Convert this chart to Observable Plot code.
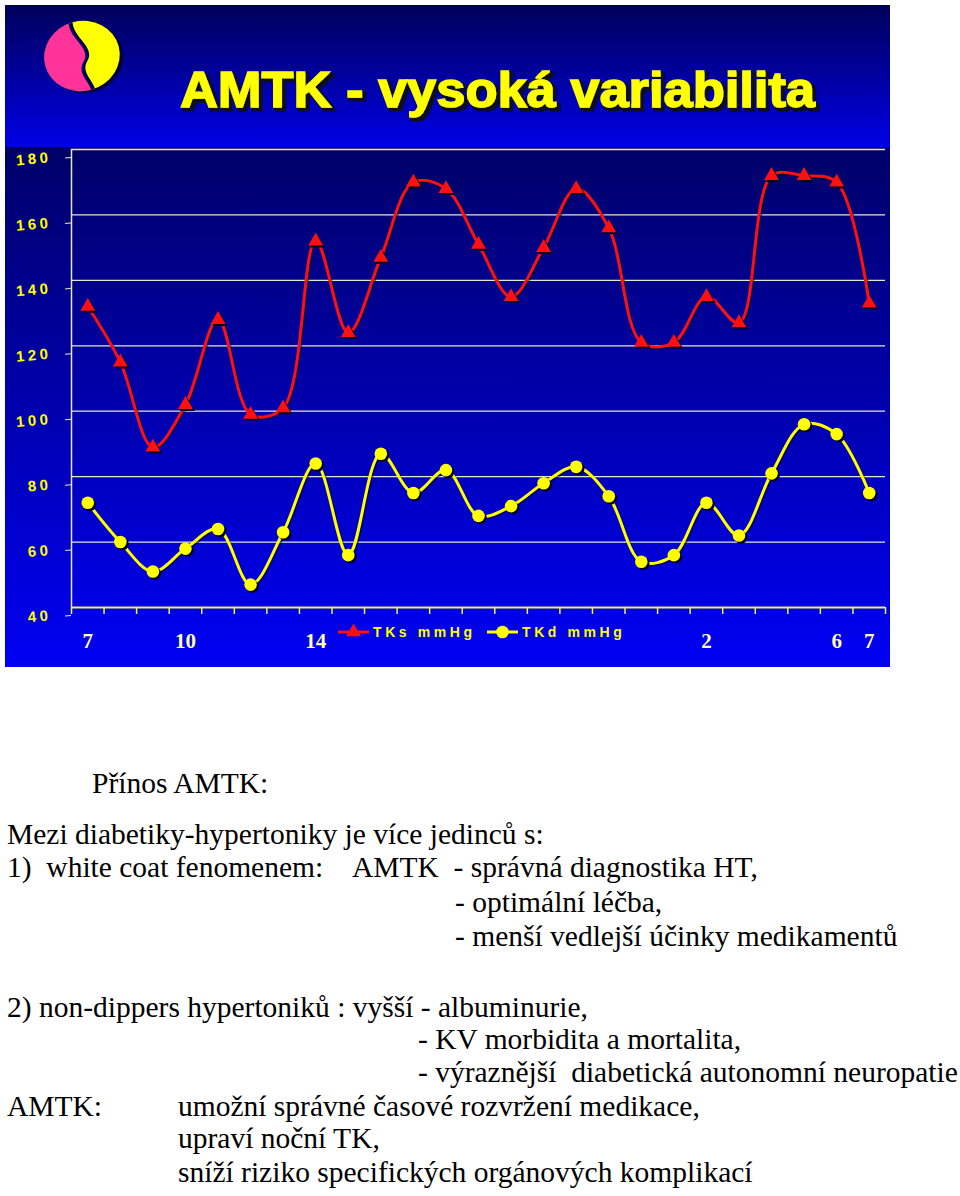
<!DOCTYPE html>
<html><head><meta charset="utf-8">
<script src="https://cdn.jsdelivr.net/npm/d3@7"></script>
<script src="https://cdn.jsdelivr.net/npm/@observablehq/plot@0.6"></script>
<style>
body{margin:0;background:#fff;width:960px;height:1196px;position:relative;overflow:hidden;}
#slide{position:absolute;left:5px;top:5px;width:885px;height:662px;background:linear-gradient(#00005a 0px,#0000e6 142px);}
#chartbg{position:absolute;left:5px;top:147px;width:885px;height:520px;background:linear-gradient(#000068,#0000f4);}
#head{position:absolute;left:0;top:0;}
#chart{position:absolute;left:0;top:140px;}
#legend{position:absolute;left:0;top:615px;}
#chart g[aria-label="y-axis tick label"] text{letter-spacing:3.5px;}
.t{position:absolute;font-family:"Liberation Serif","Times New Roman",serif;font-size:29.5px;white-space:pre;color:#000;line-height:33px;}
</style></head><body>
<div id="slide"></div><div id="chartbg"></div>
<svg id="head" width="900" height="140">
  <defs>
    <clipPath id="lc"><ellipse cx="82" cy="56" rx="38" ry="35"/></clipPath>
    <filter id="sh" x="-5%" y="-20%" width="115%" height="150%">
      <feMorphology in="SourceAlpha" operator="dilate" radius="1" result="d"/>
      <feOffset in="d" dx="3" dy="3" result="o"/>
      <feFlood flood-color="#0a0a28"/>
      <feComposite in2="o" operator="in" result="s"/>
      <feMerge><feMergeNode in="s"/><feMergeNode in="SourceGraphic"/></feMerge>
    </filter>
  </defs>
  <g transform="rotate(-15 82 56)">
    <ellipse cx="85" cy="59" rx="38" ry="35" fill="#000040"/>
    <g clip-path="url(#lc)">
      <rect x="30" y="10" width="110" height="100" fill="#ffff00"/>
      <path d="M30 10 L88 10 C68 30 100 48 86 62 C74 74 92 86 84 100 L30 100 Z" fill="#000050"/>
      <path d="M30 10 L84 10 C64 30 96 48 82 62 C70 74 88 86 80 100 L30 100 Z" fill="#ff3399"/>
    </g>
  </g>
  <text x="180" y="107" textLength="635" lengthAdjust="spacingAndGlyphs" font-family="Liberation Sans" font-weight="bold" font-size="50" fill="#ffff00" stroke="#ffff00" stroke-width="1.4" filter="url(#sh)">AMTK - vysoká  variabilita</text>
</svg>
<div id="chart"></div>
<svg id="legend" width="700" height="36"></svg>

<div class="t" style="left:92px;top:767px">Přínos AMTK:</div>
<div class="t" style="left:7px;top:818px">Mezi diabetiky-hypertoniky je více jedinců s:</div>
<div class="t" style="left:7px;top:851px">1)  white coat fenomenem:</div>
<div class="t" style="left:352px;top:851px">AMTK  - správná diagnostika HT,</div>
<div class="t" style="left:455px;top:886px">- optimální léčba,</div>
<div class="t" style="left:455px;top:920px">- menší vedlejší účinky medikamentů</div>
<div class="t" style="left:7px;top:991px">2) non-dippers hypertoniků : vyšší - albuminurie,</div>
<div class="t" style="left:418px;top:1023px">- KV morbidita a mortalita,</div>
<div class="t" style="left:418px;top:1056px">- výraznější  diabetická autonomní neuropatie</div>
<div class="t" style="left:7px;top:1090px">AMTK:</div>
<div class="t" style="left:178px;top:1090px">umožní správné časové rozvržení medikace,</div>
<div class="t" style="left:178px;top:1122px">upraví noční TK,</div>
<div class="t" style="left:178px;top:1156px">sníží riziko specifických orgánových komplikací</div>

<script>
// ---- data ----
const hours = [7,8,9,10,11,12,13,14,15,16,17,18,19,20,21,22,23,0,1,2,3,4,5,6,7];
const labeledIdx = [0,3,7,19,23,24];
const systolic = [132,115,89,102,128,99,101,152,124,147,170,168,151,135,150,168,156,121,121,135,127,172,172,170,133];
const diastolic = [72,60,51,58,64,47,63,84,56,87,75,82,68,71,78,83,74,54,56,72,62,81,96,93,75];
const yTicks = [40,60,80,100,120,140,160,180];
const seriesNames = ["TKs mmHg","TKd mmHg"];

const sys = systolic.map((v,i)=>({i:i+0.5, v}));
const dia = diastolic.map((v,i)=>({i:i+0.5, v}));

const RED = "#ff1010", YEL = "#ffff00", GRID = "#e6e6cc", SH = "#000028";

const chart = Plot.plot({
  width: 900, height: 527,
  marginLeft: 71, marginRight: 15, marginTop: 9, marginBottom: 60,
  x: {domain: [0, hours.length], axis: null, label: null},
  y: {domain: [40, 180], axis: null, label: null},
  style: {background: "transparent", overflow: "visible"},
  marks: [
    Plot.gridY(yTicks.slice(1), {stroke: GRID, strokeOpacity: 1, strokeWidth: 1.3}),
    Plot.axisY(yTicks, {label: null, tickSize: 6, stroke: GRID, tickPadding: 14, tickFormat: d => String(d),
      fill: YEL, fontSize: 15, fontWeight: "bold", fontFamily: "Liberation Sans", dy: 8, rotate: -5}),
    Plot.ruleX([0], {stroke: GRID, strokeWidth: 1.5}),
    Plot.ruleY([40], {stroke: "#f0f060", strokeWidth: 2}),
    Plot.axisX(d3.range(hours.length + 1), {label: null, tickSize: 7, stroke: "#f0f060", strokeWidth: 1.5, tickFormat: () => ""}),
    Plot.axisX(labeledIdx.map(i => i + 0.5), {label: null, tickSize: 0, tickPadding: 26, tickFormat: d => String(hours[Math.floor(d)]),
      fill: "#ffffa0", fontSize: 21, fontWeight: "bold", fontFamily: "Liberation Serif"}),
    // shadows
    Plot.line(sys, {x: "i", y: "v", curve: "catmull-rom", stroke: SH, strokeWidth: 3, strokeOpacity: 0.5, dx: 1.5, dy: 1.5}),
    Plot.line(dia, {x: "i", y: "v", curve: "catmull-rom", stroke: SH, strokeWidth: 3, strokeOpacity: 0.5, dx: 1.5, dy: 1.5}),
    Plot.line(sys, {x: "i", y: "v", curve: "catmull-rom", stroke: RED, strokeWidth: 3}),
    Plot.line(dia, {x: "i", y: "v", curve: "catmull-rom", stroke: YEL, strokeWidth: 3}),
    Plot.dot(sys, {x: "i", y: "v", symbol: "triangle", r: 5.5, fill: SH, dx: 2, dy: 2}),
    Plot.dot(sys, {x: "i", y: "v", symbol: "triangle", r: 5.5, fill: RED}),
    Plot.dot(dia, {x: "i", y: "v", r: 6.3, fill: SH, dx: 2, dy: 2}),
    Plot.dot(dia, {x: "i", y: "v", r: 6.3, fill: YEL})
  ]
});
document.getElementById("chart").appendChild(chart);

// legend
const lg = d3.select("#legend");
const items = [
  {x0: 338, name: seriesNames[0], color: RED, sym: d3.symbolTriangle, size: 95},
  {x0: 487, name: seriesNames[1], color: YEL, sym: d3.symbolCircle, size: 125}
];
for (const it of items) {
  lg.append("line").attr("x1", it.x0).attr("x2", it.x0 + 31).attr("y1", 17).attr("y2", 17)
    .attr("stroke", it.color).attr("stroke-width", 3);
  lg.append("path").attr("d", d3.symbol(it.sym, it.size)()).attr("transform", `translate(${it.x0 + 15.5},17)`)
    .attr("fill", it.color);
  lg.append("text").attr("x", it.x0 + 35).attr("y", 22).text(it.name)
    .attr("fill", YEL).attr("font-family", "Liberation Sans").attr("font-weight", "bold")
    .attr("font-size", 14).attr("letter-spacing", "3.6px");
}
</script>
</body></html>
